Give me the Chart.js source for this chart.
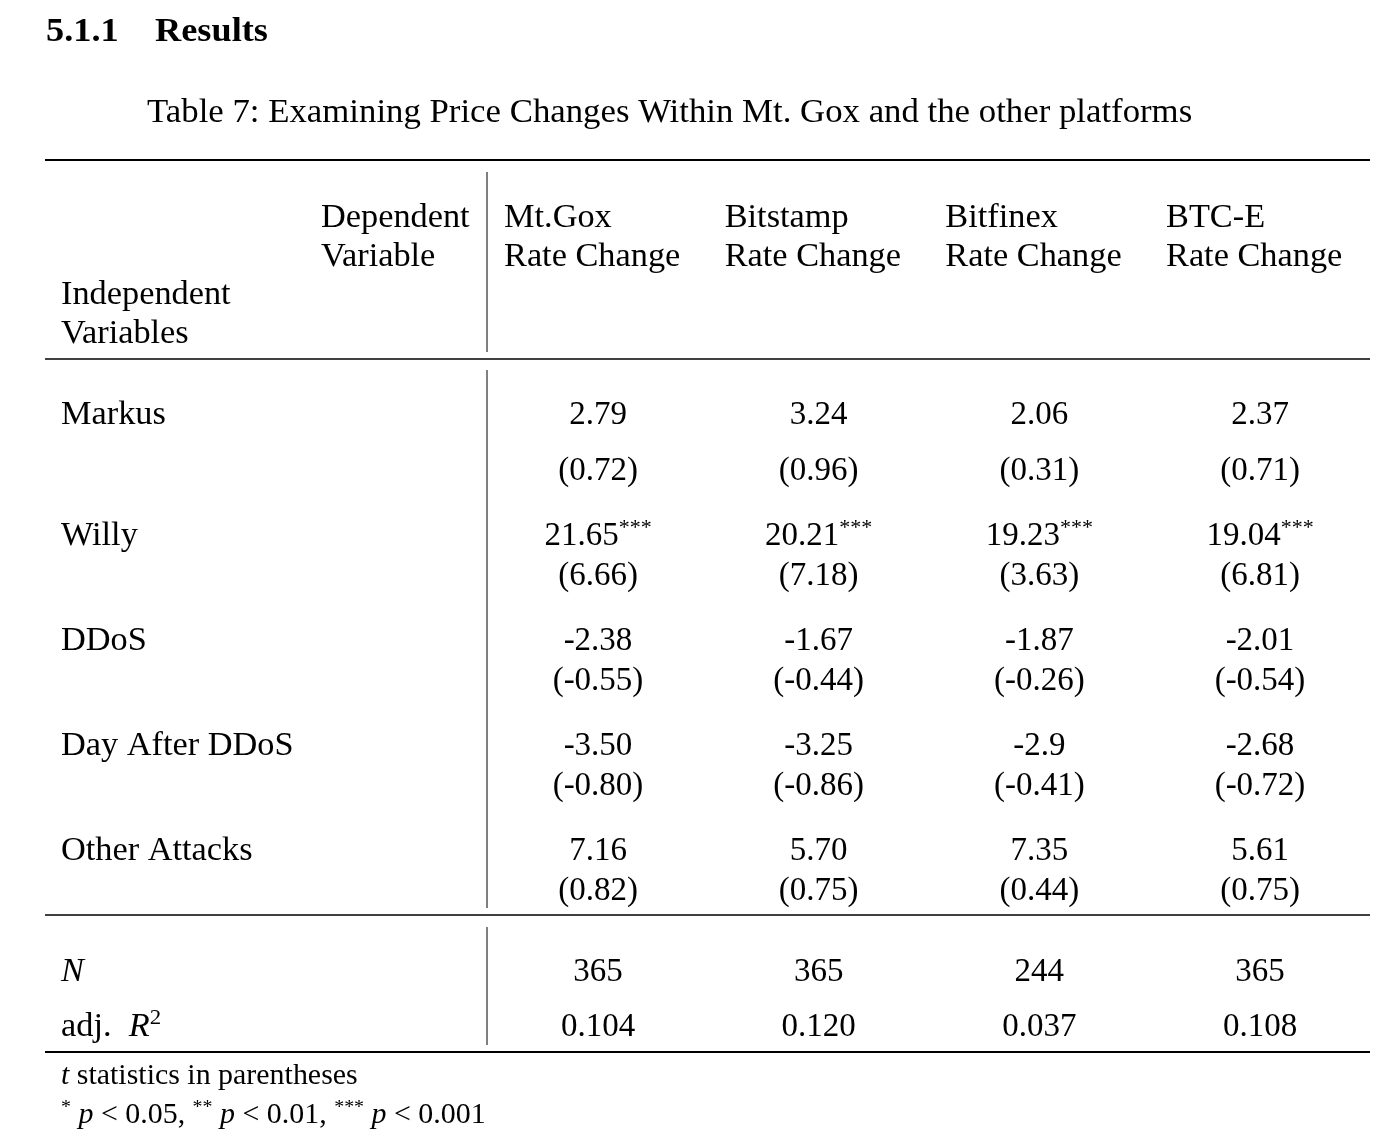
<!DOCTYPE html>
<html>
<head>
<meta charset="utf-8">
<script src="https://cdn.jsdelivr.net/npm/chart.js@4.4.1/dist/chart.umd.min.js"></script>
<style>
  html, body { margin: 0; padding: 0; background: #fff; }
  #wrap { width: 1374px; height: 1144px; }
</style>
</head>
<body>
<div id="wrap"><canvas id="myChart" width="1374" height="1144"></canvas></div>
<script>
// table content
const variables = ['Markus', 'Willy', 'DDoS', 'Day After DDoS', 'Other Attacks'];
const platforms = ['Mt.Gox', 'Bitstamp', 'Bitfinex', 'BTC-E'];
const coefMtGox    = ['2.79', '21.65', '-2.38', '-3.50', '7.16'];
const coefBitstamp = ['3.24', '20.21', '-1.67', '-3.25', '5.70'];
const coefBitfinex = ['2.06', '19.23', '-1.87', '-2.9', '7.35'];
const coefBtce     = ['2.37', '19.04', '-2.01', '-2.68', '5.61'];
const tMtGox    = ['0.72', '6.66', '-0.55', '-0.80', '0.82'];
const tBitstamp = ['0.96', '7.18', '-0.44', '-0.86', '0.75'];
const tBitfinex = ['0.31', '3.63', '-0.26', '-0.41', '0.44'];
const tBtce     = ['0.71', '6.81', '-0.54', '-0.72', '0.75'];
const stars = ['', '***', '', '', ''];
const nObs = [365, 365, 244, 365];
const adjR2 = ['0.104', '0.120', '0.037', '0.108'];

const coefs = [coefMtGox, coefBitstamp, coefBitfinex, coefBtce];
const tstats = [tMtGox, tBitstamp, tBitfinex, tBtce];

const SERIF = '"Liberation Serif", "DejaVu Serif", serif';
const FS = 33;
const WIDE = 1.04; // letters a touch wider, closer to the original face

// one x unit = one platform column, one y unit = one variable block
const firstRowLift = 0.152;
const tOffset = 0.381;

function drawRuns(ctx, runs, px, py, align, sx) {
  sx = sx || 1;
  let w = 0;
  for (const r of runs) {
    ctx.font = r.font;
    r.w = ctx.measureText(r.t).width * sx;
    w += r.w;
  }
  let cx = align === 'center' ? px - w / 2 : px;
  ctx.textAlign = 'left';
  ctx.textBaseline = 'alphabetic';
  for (const r of runs) {
    ctx.font = r.font;
    ctx.save();
    ctx.translate(cx, py - (r.rise || 0));
    ctx.scale(sx, 1);
    ctx.fillText(r.t, 0, 0);
    ctx.restore();
    cx += r.w;
  }
}

const REG = FS + 'px ' + SERIF;
const ITA = 'italic ' + FS + 'px ' + SERIF;
const SUP = Math.round(FS * 0.68) + 'px ' + SERIF;
const BOLD = 'bold ' + FS + 'px ' + SERIF;
const SMALL = '28.5px ' + SERIF;
const SMALLI = 'italic 28.5px ' + SERIF;
const SMALLSUP = '19px ' + SERIF;

const tablePlugin = {
  id: 'tableText',
  afterDraw(chart) {
    const ctx = chart.ctx;
    const sx = chart.scales.x, sy = chart.scales.y;
    const X = v => sx.getPixelForValue(v);
    const Y = v => sy.getPixelForValue(v) + FS * 0.33; // baseline from visual centre
    ctx.save();
    ctx.fillStyle = '#000';
    ctx.strokeStyle = '#000';

    // heading and caption
    drawRuns(ctx, [{t: '5.1.1', font: BOLD}], X(-2.5015), Y(-3.8), 'left', 1.1);
    drawRuns(ctx, [{t: 'Results', font: BOLD}], X(-2.0075), Y(-3.8), 'left', 1.1);
    drawRuns(ctx, [{t: 'Table 7: Examining Price Changes Within Mt. Gox and the other platforms', font: REG}],
      X(-2.0438), Y(-3.0286), 'left', 1.054);

    // rules
    const hline = (v, lw) => {
      ctx.lineWidth = lw;
      ctx.beginPath();
      ctx.moveTo(X(-2.506), sy.getPixelForValue(v));
      ctx.lineTo(X(3.4985), sy.getPixelForValue(v));
      ctx.stroke();
    };
    const vline = (a, b) => {
      ctx.lineWidth = 1;
      ctx.beginPath();
      ctx.moveTo(X(-0.503), sy.getPixelForValue(a));
      ctx.lineTo(X(-0.503), sy.getPixelForValue(b));
      ctx.stroke();
    };
    hline(-2.562, 2);
    hline(-0.6667, 1.3);
    hline(4.6286, 1.3);
    hline(5.933, 2);
    vline(-2.4476, -0.7333);
    vline(-0.5619, 4.5619);
    vline(4.743, 5.867);

    // header
    drawRuns(ctx, [{t: 'Dependent', font: REG}], X(-1.2553), Y(-2.0286), 'left', WIDE);
    drawRuns(ctx, [{t: 'Variable', font: REG}], X(-1.2553), Y(-1.657), 'left', WIDE);
    drawRuns(ctx, [{t: 'Independent', font: REG}], X(-2.4335), Y(-1.295), 'left', WIDE);
    drawRuns(ctx, [{t: 'Variables', font: REG}], X(-2.4335), Y(-0.924), 'left', WIDE);
    platforms.forEach((p, i) => {
      drawRuns(ctx, [{t: p, font: REG}], X(i - 0.426), Y(-2.0286), 'left', WIDE);
      drawRuns(ctx, [{t: 'Rate Change', font: REG}], X(i - 0.426), Y(-1.657), 'left', WIDE);
    });

    // row labels
    variables.forEach((v, j) => {
      drawRuns(ctx, [{t: v, font: REG}], X(-2.4335), Y(j === 0 ? -firstRowLift : j), 'left', WIDE);
    });

    // cells, positioned from the dataset points
    chart.data.datasets.forEach((ds, i) => {
      const meta = chart.getDatasetMeta(i);
      meta.data.forEach((pt, j) => {
        const raw = ds.data[j];
        const by = pt.y + FS * 0.33;
        const runs = [{t: raw.label, font: REG}];
        if (raw.stars) runs.push({t: raw.stars, font: SUP, rise: FS * 0.34});
        drawRuns(ctx, runs, pt.x, by, 'center');
      });
    });

    // summary rows
    drawRuns(ctx, [{t: 'N', font: ITA}], X(-2.4335), Y(5.152), 'left', WIDE);
    drawRuns(ctx, [{t: 'adj.  ', font: REG}, {t: 'R', font: ITA}, {t: '2', font: SUP, rise: FS * 0.36}],
      X(-2.4335), Y(5.676), 'left', WIDE);

    // footnotes
    drawRuns(ctx, [{t: 't', font: SMALLI}, {t: ' statistics in parentheses', font: SMALL}],
      X(-2.4335), Y(6.133), 'left', 1.05);
    drawRuns(ctx, [
      {t: '*', font: SMALLSUP, rise: FS * 0.3}, {t: ' ', font: SMALL}, {t: 'p', font: SMALLI}, {t: ' < 0.05, ', font: SMALL},
      {t: '**', font: SMALLSUP, rise: FS * 0.3}, {t: ' ', font: SMALL}, {t: 'p', font: SMALLI}, {t: ' < 0.01, ', font: SMALL},
      {t: '***', font: SMALLSUP, rise: FS * 0.3}, {t: ' ', font: SMALL}, {t: 'p', font: SMALLI}, {t: ' < 0.001', font: SMALL}
    ], X(-2.4335), Y(6.505), 'left', 1.05);

    ctx.restore();
  }
};

const datasets = platforms.map((p, i) => {
  const pts = [];
  variables.forEach((v, j) => {
    pts.push({x: i, y: j === 0 ? j - firstRowLift : j, label: coefs[i][j], stars: stars[j]});
    pts.push({x: i, y: j + tOffset, label: '(' + tstats[i][j] + ')'});
  });
  pts.push({x: i, y: 5.152, label: String(nObs[i])});
  pts.push({x: i, y: 5.676, label: adjR2[i]});
  return {label: p, data: pts, pointRadius: 0, showLine: false};
});

const myChart = new Chart(document.getElementById('myChart'), {
  type: 'scatter',
  data: {datasets: datasets},
  options: {
    responsive: false,
    animation: false,
    devicePixelRatio: 1,
    layout: {padding: 0},
    plugins: {legend: {display: false}, tooltip: {enabled: false}},
    scales: {
      x: {type: 'linear', min: -2.70998, max: 3.5166, display: false},
      y: {type: 'linear', min: -4.0857, max: 6.8095, reverse: true, display: false}
    }
  },
  plugins: [tablePlugin]
});
</script>
</body>
</html>
